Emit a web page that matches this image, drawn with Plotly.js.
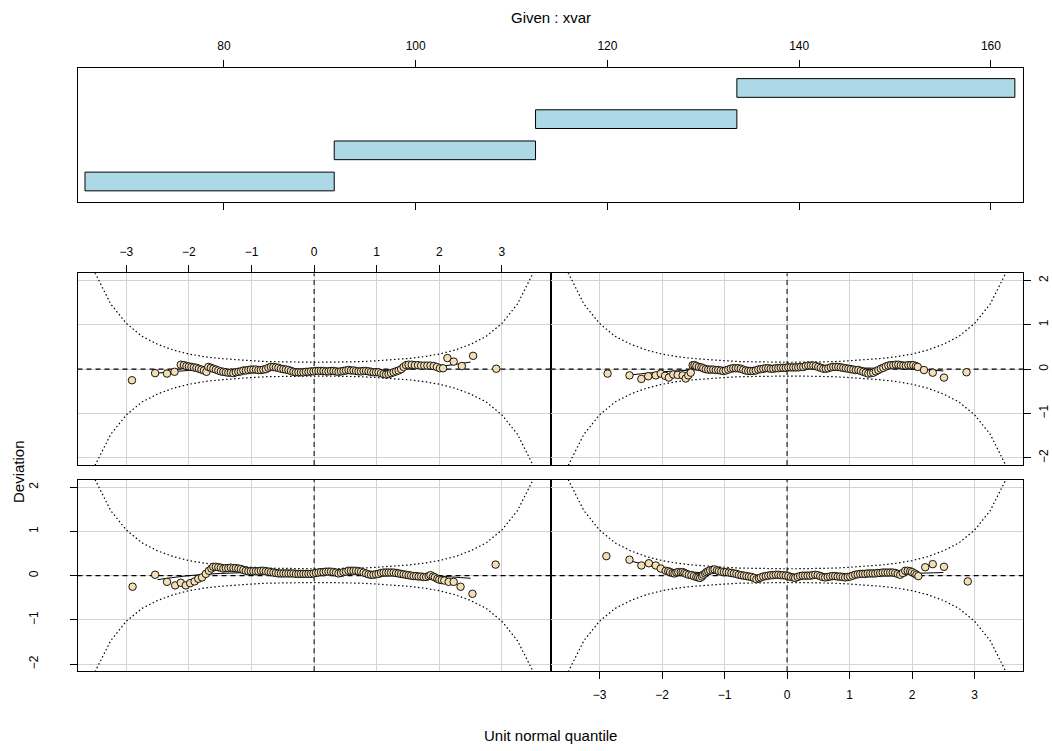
<!DOCTYPE html>
<html>
<head>
<meta charset="utf-8">
<script src="https://cdn.plot.ly/plotly-3.0.1.min.js"></script>
<style>html,body{margin:0;padding:0;background:#fff;}#chart{width:1052px;height:751px;}</style>
</head>
<body>
<div id="chart"></div>
<script>
// ---- Given panel: xvar intervals ----
var intervalLevel = [1, 2, 3, 4];
var intervalLow  = [65.5, 91.5, 112.5, 133.5];
var intervalHigh = [91.5, 112.5, 133.5, 162.5];
var givenTicks = [80, 100, 120, 140, 160];

// ---- Worm plot tick values ----
var quantTicks = [-3, -2, -1, 0, 1, 2, 3];
var devTicks = [-2, -1, 0, 1, 2];
var devTickText = ['\u22122', '\u22121', '0', '1', '2'];
var quantTickText = ['\u22123', '\u22122', '\u22121', '0', '1', '2', '3'];

// ---- 95% confidence band half-width ----
var bandZ = [-3.5,-3.25,-3,-2.75,-2.5,-2.25,-2,-1.75,-1.5,-1.25,-1,-0.75,-0.5,-0.25,0,0.25,0.5,0.75,1,1.25,1.5,1.75,2,2.25,2.5,2.75,3,3.25,3.5];
var bandHalf = [2.17,1.47,1.03,0.74,0.56,0.43,0.34,0.28,0.24,0.21,0.19,0.17,0.16,0.157,0.155,0.157,0.16,0.17,0.19,0.21,0.24,0.28,0.34,0.43,0.56,0.74,1.03,1.47,2.17];

// ---- Worm points, [unit normal quantile, deviation] ----
// panel 3 (top-left)
var wormTL = [[-2.91,-0.25],[-2.54,-0.09],[-2.35,-0.10],[-2.23,-0.06],[-2.13,0.10],[-2.08,0.09],[-2.04,0.07],[-2.00,0.06],[-1.96,0.05],[-1.92,0.04],[-1.88,0.03],[-1.84,0.01],[-1.80,-0.01],[-1.76,-0.03],[-1.72,-0.06],[-1.69,0.05],[-1.65,0.03],[-1.61,0.01],[-1.57,-0.01],[-1.53,-0.03],[-1.49,-0.05],[-1.45,-0.06],[-1.41,-0.07],[-1.37,-0.08],[-1.33,-0.08],[-1.29,-0.09],[-1.25,-0.07],[-1.21,-0.06],[-1.17,-0.05],[-1.13,-0.03],[-1.09,-0.03],[-1.05,-0.02],[-1.01,-0.01],[-0.97,-0.01],[-0.93,-0.01],[-0.89,-0.02],[-0.85,-0.02],[-0.81,-0.01],[-0.77,0.00],[-0.73,0.03],[-0.69,0.05],[-0.65,0.05],[-0.61,0.04],[-0.57,0.03],[-0.53,0.01],[-0.49,0.00],[-0.45,-0.01],[-0.41,-0.02],[-0.37,-0.04],[-0.33,-0.06],[-0.29,-0.07],[-0.25,-0.07],[-0.21,-0.07],[-0.17,-0.07],[-0.13,-0.06],[-0.09,-0.06],[-0.05,-0.05],[-0.01,-0.05],[0.03,-0.04],[0.07,-0.04],[0.11,-0.04],[0.15,-0.04],[0.19,-0.05],[0.23,-0.05],[0.27,-0.04],[0.31,-0.04],[0.35,-0.05],[0.39,-0.06],[0.43,-0.05],[0.47,-0.04],[0.51,-0.03],[0.55,-0.02],[0.59,-0.03],[0.63,-0.03],[0.67,-0.04],[0.71,-0.05],[0.75,-0.05],[0.79,-0.04],[0.83,-0.04],[0.87,-0.05],[0.91,-0.06],[0.95,-0.07],[0.99,-0.07],[1.03,-0.07],[1.07,-0.09],[1.11,-0.11],[1.15,-0.12],[1.19,-0.11],[1.23,-0.09],[1.27,-0.07],[1.31,-0.05],[1.35,-0.03],[1.39,0.00],[1.43,0.05],[1.47,0.09],[1.51,0.10],[1.56,0.10],[1.61,0.09],[1.66,0.09],[1.71,0.08],[1.76,0.08],[1.81,0.08],[1.86,0.08],[1.91,0.07],[1.96,0.05],[2.01,0.02],[2.06,0.02],[2.13,0.25],[2.23,0.17],[2.36,0.07],[2.54,0.30],[2.91,0.01]];
// panel 4 (top-right)
var wormTR = [[-2.87,-0.10],[-2.52,-0.14],[-2.33,-0.22],[-2.22,-0.16],[-2.10,-0.14],[-2.02,-0.10],[-1.95,-0.15],[-1.89,-0.19],[-1.82,-0.12],[-1.75,-0.13],[-1.67,-0.14],[-1.62,-0.21],[-1.58,-0.14],[-1.54,-0.08],[-1.51,0.09],[-1.48,0.09],[-1.45,0.07],[-1.41,0.05],[-1.37,0.04],[-1.34,0.02],[-1.30,0.00],[-1.26,-0.01],[-1.22,-0.01],[-1.18,-0.01],[-1.14,-0.02],[-1.10,-0.02],[-1.06,-0.03],[-1.02,-0.04],[-0.98,-0.03],[-0.94,-0.01],[-0.90,0.01],[-0.86,0.02],[-0.82,0.02],[-0.78,0.02],[-0.74,0.01],[-0.70,-0.01],[-0.66,-0.03],[-0.62,-0.04],[-0.58,-0.04],[-0.54,-0.04],[-0.50,-0.03],[-0.46,-0.01],[-0.42,0.00],[-0.38,0.01],[-0.34,0.02],[-0.30,0.02],[-0.26,0.01],[-0.22,0.01],[-0.18,0.02],[-0.14,0.02],[-0.10,0.03],[-0.06,0.03],[-0.02,0.03],[0.02,0.04],[0.06,0.04],[0.10,0.04],[0.14,0.04],[0.18,0.04],[0.22,0.05],[0.26,0.05],[0.30,0.07],[0.34,0.08],[0.38,0.08],[0.42,0.08],[0.46,0.07],[0.50,0.05],[0.54,0.03],[0.58,0.01],[0.62,0.01],[0.66,0.02],[0.70,0.04],[0.74,0.05],[0.78,0.05],[0.82,0.05],[0.86,0.04],[0.90,0.03],[0.94,0.02],[0.98,0.01],[1.02,0.00],[1.06,-0.01],[1.10,-0.02],[1.14,-0.02],[1.18,-0.04],[1.22,-0.06],[1.26,-0.08],[1.30,-0.10],[1.34,-0.09],[1.38,-0.08],[1.42,-0.05],[1.46,-0.02],[1.50,0.01],[1.54,0.03],[1.58,0.06],[1.62,0.08],[1.66,0.09],[1.70,0.09],[1.74,0.10],[1.78,0.10],[1.82,0.09],[1.86,0.08],[1.90,0.08],[1.94,0.09],[1.98,0.09],[2.02,0.09],[2.06,0.07],[2.09,0.05],[2.19,-0.02],[2.33,-0.08],[2.51,-0.19],[2.87,-0.07]];
// panel 1 (bottom-left)
var wormBL = [[-2.90,-0.25],[-2.54,0.02],[-2.35,-0.14],[-2.22,-0.22],[-2.13,-0.16],[-2.05,-0.22],[-1.98,-0.17],[-1.91,-0.13],[-1.85,-0.07],[-1.79,-0.04],[-1.73,0.04],[-1.68,0.11],[-1.64,0.16],[-1.61,0.20],[-1.57,0.20],[-1.53,0.19],[-1.49,0.18],[-1.45,0.16],[-1.41,0.17],[-1.37,0.17],[-1.33,0.18],[-1.29,0.17],[-1.25,0.17],[-1.21,0.16],[-1.17,0.15],[-1.13,0.13],[-1.09,0.11],[-1.05,0.10],[-1.01,0.10],[-0.97,0.10],[-0.93,0.10],[-0.89,0.10],[-0.85,0.11],[-0.81,0.11],[-0.77,0.10],[-0.73,0.09],[-0.69,0.08],[-0.65,0.07],[-0.61,0.06],[-0.57,0.05],[-0.53,0.05],[-0.49,0.05],[-0.45,0.05],[-0.41,0.05],[-0.37,0.05],[-0.33,0.05],[-0.29,0.04],[-0.25,0.04],[-0.21,0.04],[-0.17,0.04],[-0.13,0.04],[-0.09,0.04],[-0.05,0.04],[-0.01,0.05],[0.03,0.06],[0.07,0.07],[0.11,0.08],[0.15,0.08],[0.19,0.09],[0.23,0.09],[0.27,0.09],[0.31,0.08],[0.35,0.07],[0.39,0.05],[0.43,0.06],[0.47,0.08],[0.51,0.09],[0.55,0.11],[0.59,0.11],[0.63,0.11],[0.67,0.11],[0.71,0.10],[0.75,0.09],[0.79,0.07],[0.83,0.05],[0.87,0.03],[0.91,0.02],[0.95,0.02],[0.99,0.03],[1.03,0.04],[1.07,0.06],[1.11,0.07],[1.15,0.07],[1.19,0.07],[1.23,0.07],[1.27,0.07],[1.31,0.06],[1.35,0.05],[1.39,0.04],[1.43,0.03],[1.47,0.02],[1.51,0.01],[1.55,0.00],[1.59,-0.01],[1.63,-0.01],[1.67,-0.02],[1.71,-0.02],[1.75,-0.03],[1.79,-0.03],[1.83,-0.01],[1.86,0.01],[1.90,-0.02],[1.93,-0.04],[1.97,-0.07],[2.00,-0.09],[2.04,-0.10],[2.08,-0.11],[2.15,-0.14],[2.23,-0.14],[2.34,-0.25],[2.53,-0.41],[2.90,0.25]];
// panel 2 (bottom-right)
var wormBR = [[-2.89,0.44],[-2.52,0.36],[-2.33,0.23],[-2.21,0.28],[-2.10,0.23],[-2.02,0.16],[-1.94,0.11],[-1.90,0.10],[-1.87,0.08],[-1.83,0.06],[-1.80,0.05],[-1.77,0.07],[-1.74,0.08],[-1.70,0.08],[-1.67,0.08],[-1.64,0.06],[-1.61,0.04],[-1.57,0.02],[-1.53,0.01],[-1.49,-0.01],[-1.45,-0.03],[-1.42,-0.04],[-1.39,-0.05],[-1.36,-0.02],[-1.34,0.02],[-1.31,0.05],[-1.29,0.08],[-1.26,0.10],[-1.23,0.12],[-1.19,0.13],[-1.16,0.14],[-1.12,0.12],[-1.09,0.10],[-1.05,0.09],[-1.01,0.08],[-0.97,0.08],[-0.93,0.07],[-0.89,0.06],[-0.85,0.05],[-0.81,0.04],[-0.77,0.02],[-0.73,0.01],[-0.69,0.00],[-0.65,-0.01],[-0.61,-0.02],[-0.57,-0.03],[-0.53,-0.05],[-0.49,-0.08],[-0.45,-0.06],[-0.42,-0.04],[-0.38,-0.02],[-0.34,-0.01],[-0.30,0.00],[-0.26,0.01],[-0.22,0.01],[-0.18,0.02],[-0.14,0.02],[-0.10,0.01],[-0.06,0.01],[-0.02,0.00],[0.02,-0.01],[0.06,-0.03],[0.10,-0.04],[0.13,-0.05],[0.17,-0.03],[0.21,-0.01],[0.25,0.00],[0.29,0.00],[0.33,0.00],[0.37,0.00],[0.41,0.01],[0.45,0.02],[0.49,0.01],[0.53,-0.01],[0.57,-0.03],[0.61,-0.04],[0.65,-0.03],[0.69,-0.02],[0.73,-0.01],[0.77,-0.01],[0.81,-0.02],[0.85,-0.02],[0.89,-0.03],[0.93,-0.04],[0.97,-0.03],[1.01,-0.02],[1.05,0.00],[1.09,0.02],[1.13,0.03],[1.17,0.04],[1.21,0.04],[1.25,0.04],[1.29,0.05],[1.33,0.05],[1.37,0.05],[1.41,0.05],[1.45,0.06],[1.49,0.06],[1.53,0.07],[1.57,0.07],[1.61,0.07],[1.65,0.07],[1.69,0.07],[1.73,0.06],[1.77,0.04],[1.81,0.02],[1.85,0.06],[1.89,0.11],[1.93,0.11],[1.97,0.10],[2.00,0.08],[2.04,0.05],[2.07,0.02],[2.10,-0.01],[2.21,0.19],[2.33,0.26],[2.51,0.20],[2.89,-0.13]];

// ---- Cubic fitted worm lines ----
var fitZ = [-2.5,-2,-1.5,-1,-0.5,0,0.5,1,1.5,2,2.5];
var fitTL = [-0.09,-0.03,-0.02,-0.02,-0.03,-0.04,-0.04,-0.03,0.00,0.06,0.16];
var fitTR = [-0.13,-0.06,-0.02,0.01,0.02,0.03,0.03,0.03,0.02,0.00,-0.04];
var fitBL = [-0.09,0.00,0.05,0.07,0.08,0.08,0.07,0.06,0.03,-0.01,-0.06];
var fitBR = [0.33,0.17,0.08,0.04,0.01,0.00,0.00,0.01,0.03,0.05,0.07];

// ---------------------------------------------------------------
var W = 1052, H = 751;
function px(x) { return x / W; }
function py(y) { return 1 - y / H; }

var colL = [px(77.5), px(550.7)], colR = [px(550.7), px(1023.4)];
var rowT = [py(465), py(273.3)], rowB = [py(671.3), py(480)];
var givenDom = [py(202), py(67.7)];
var zRange = [-3.78, 3.78], dRange = [-2.16, 2.16];

var FONT = 'Liberation Sans, Arial, Helvetica, sans-serif';
var tickFont = {family: FONT, size: 12, color: '#000'};
var titleFont = {family: FONT, size: 15, color: '#000'};

var panels = [
  {pts: wormTL, fit: fitTL, xa: 'x2', ya: 'y2'},
  {pts: wormTR, fit: fitTR, xa: 'x3', ya: 'y3'},
  {pts: wormBL, fit: fitBL, xa: 'x4', ya: 'y4'},
  {pts: wormBR, fit: fitBR, xa: 'x5', ya: 'y5'}
];

var traces = [];
// given bars
traces.push({
  type: 'bar', orientation: 'h',
  y: intervalLevel,
  x: intervalHigh.map(function (h, i) { return h - intervalLow[i]; }),
  base: intervalLow,
  width: 0.6,
  marker: {color: '#ADD8E6', line: {color: '#000', width: 1}},
  xaxis: 'x', yaxis: 'y', hoverinfo: 'skip'
});

panels.forEach(function (p) {
  // reference lines at zero (dashed), spanning the axis range
  traces.push({type: 'scatter', mode: 'lines', x: zRange, y: [0, 0],
    line: {color: '#000', width: 1.2, dash: '5px,4px'}, xaxis: p.xa, yaxis: p.ya, hoverinfo: 'skip'});
  traces.push({type: 'scatter', mode: 'lines', x: [0, 0], y: dRange,
    line: {color: '#000', width: 1, dash: '5px,4px'}, xaxis: p.xa, yaxis: p.ya, hoverinfo: 'skip'});
  // confidence bands
  traces.push({type: 'scatter', mode: 'lines', x: bandZ, y: bandHalf,
    line: {color: '#000', width: 1.2, dash: '1.5px,2.5px'}, xaxis: p.xa, yaxis: p.ya, hoverinfo: 'skip'});
  traces.push({type: 'scatter', mode: 'lines', x: bandZ, y: bandHalf.map(function (v) { return -v; }),
    line: {color: '#000', width: 1.2, dash: '1.5px,2.5px'}, xaxis: p.xa, yaxis: p.ya, hoverinfo: 'skip'});
  // fitted cubic
  traces.push({type: 'scatter', mode: 'lines', x: fitZ, y: p.fit, line: {color: '#000', width: 1, shape: 'spline'},
    xaxis: p.xa, yaxis: p.ya, hoverinfo: 'skip'});
  // points
  traces.push({type: 'scatter', mode: 'markers',
    x: p.pts.map(function (d) { return d[0]; }),
    y: p.pts.map(function (d) { return d[1]; }),
    marker: {size: 7.5, color: '#F5DEB3', line: {color: '#000', width: 0.9}},
    xaxis: p.xa, yaxis: p.ya, hoverinfo: 'skip'});
});

function wormX(dom, anchor, showTicks, side) {
  return {
    domain: dom, anchor: anchor, range: zRange, side: side || 'bottom',
    tickmode: 'array', tickvals: quantTicks, ticktext: quantTickText,
    showticklabels: !!showTicks, ticks: showTicks ? 'outside' : '', ticklen: 7, tickcolor: '#000',
    ticklabelstandoff: 5,
    tickfont: tickFont, showgrid: true, gridcolor: '#D3D3D3', gridwidth: 1,
    zeroline: false, showline: true, mirror: true, linecolor: '#000', linewidth: 1, fixedrange: true
  };
}
function wormY(dom, anchor, showTicks, side, standoff) {
  return {
    domain: dom, anchor: anchor, range: dRange, side: side || 'left',
    tickmode: 'array', tickvals: devTicks, ticktext: devTickText, tickangle: -90,
    showticklabels: !!showTicks, ticks: showTicks ? 'outside' : '', ticklen: 7, tickcolor: '#000',
    ticklabelstandoff: standoff || 5,
    tickfont: tickFont, showgrid: true, gridcolor: '#D3D3D3', gridwidth: 1,
    zeroline: false, showline: true, mirror: true, linecolor: '#000', linewidth: 1, fixedrange: true
  };
}

var layout = {
  width: W, height: H,
  margin: {l: 0, r: 0, t: 0, b: 0},
  paper_bgcolor: '#fff', plot_bgcolor: '#fff',
  showlegend: false,
  font: {family: FONT, size: 12, color: '#000'},
  barmode: 'overlay',
  xaxis: {
    domain: [px(77.5), px(1023.4)], anchor: 'y', range: [64.72, 163.39], side: 'top',
    tickmode: 'array', tickvals: givenTicks, ticks: 'outside', ticklen: 7, tickcolor: '#000',
    ticklabelstandoff: 5, tickfont: tickFont,
    showgrid: false, zeroline: false, showline: true, mirror: 'ticks', linecolor: '#000', linewidth: 1, fixedrange: true
  },
  yaxis: {
    domain: givenDom, anchor: 'x', range: [0.342, 4.651],
    showticklabels: false, ticks: '', showgrid: false, zeroline: false,
    showline: true, mirror: true, linecolor: '#000', linewidth: 1, fixedrange: true
  },
  xaxis2: wormX(colL, 'y2', true, 'top'),
  yaxis2: wormY(rowT, 'x2', false),
  xaxis3: wormX(colR, 'y3', false),
  yaxis3: wormY(rowT, 'x3', true, 'right', 2),
  xaxis4: wormX(colL, 'y4', false),
  yaxis4: wormY(rowB, 'x4', true, 'left', 27),
  xaxis5: wormX(colR, 'y5', true, 'bottom'),
  yaxis5: wormY(rowB, 'x5', false),
  annotations: [
    {text: 'Given : xvar', xref: 'paper', yref: 'paper', x: px(550.5), y: py(17), showarrow: false,
      font: titleFont, xanchor: 'center', yanchor: 'middle'},
    {text: 'Unit normal quantile', xref: 'paper', yref: 'paper', x: px(550.5), y: py(735), showarrow: false,
      font: titleFont, xanchor: 'center', yanchor: 'middle'},
    {text: 'Deviation', xref: 'paper', yref: 'paper', x: px(18), y: py(472), showarrow: false, textangle: -90,
      font: titleFont, xanchor: 'center', yanchor: 'middle'}
  ]
};

Plotly.newPlot('chart', traces, layout, {staticPlot: true, displayModeBar: false});
</script>
</body>
</html>
